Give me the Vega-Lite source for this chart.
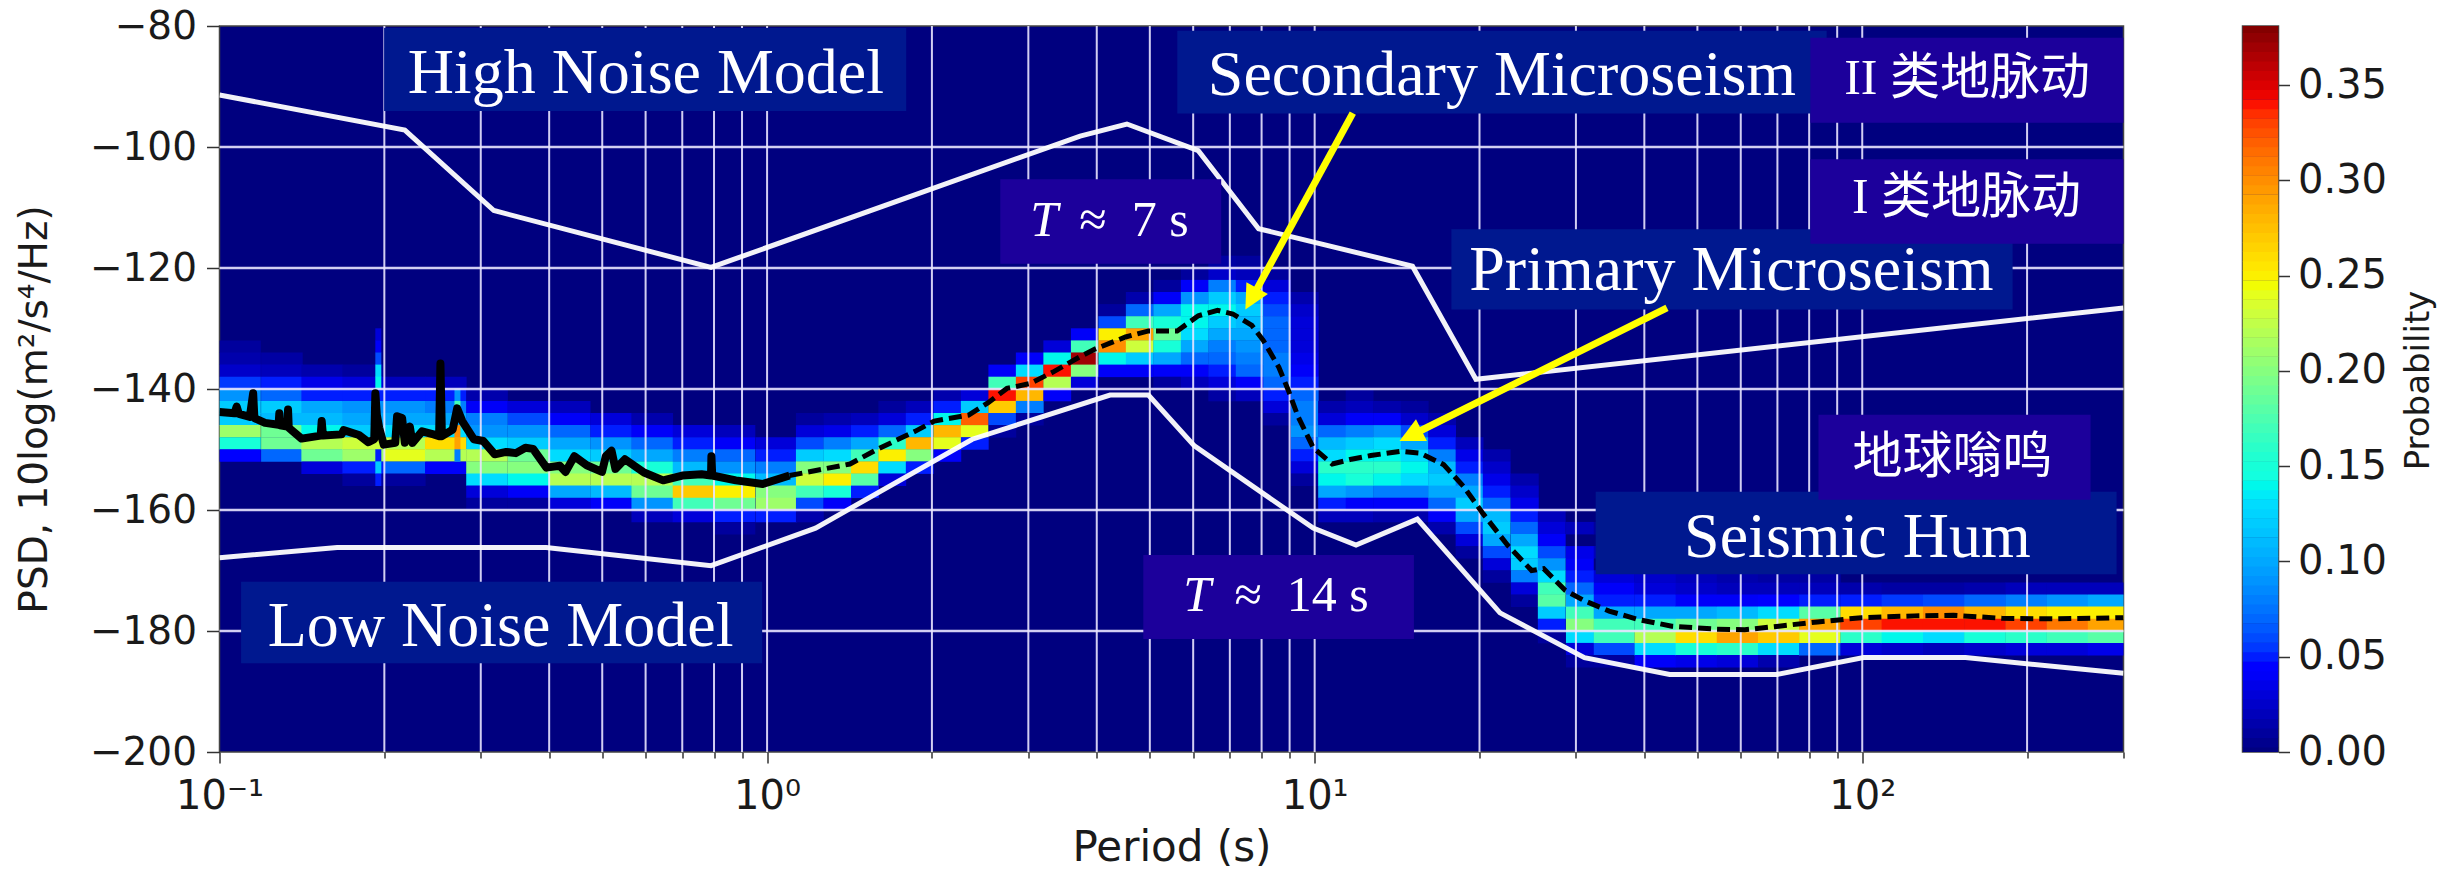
{"$schema":"https://vega.github.io/schema/vega-lite/v6.json","background":"white","padding":{"left":14.5,"top":6,"right":5,"bottom":5},"spacing":107,
"config":{"view":{"fill":"#00007f","stroke":"#444444","strokeWidth":1.5},"axis":{"labelFont":"DejaVu Sans","titleFont":"DejaVu Sans","grid":false,"domain":false,"labelColor":"#1a1a1a","titleColor":"#1a1a1a","tickColor":"#333333","tickWidth":1.5,"titleFontWeight":"normal"}},
"datasets":{
"coarse":[
{"p":0.109,"d":-133,"v":0.01},{"p":0.109,"d":-135,"v":0.015},{"p":0.109,"d":-137,"v":0.025},{"p":0.109,"d":-139,"v":0.055},{"p":0.109,"d":-141,"v":0.09},{"p":0.109,"d":-143,"v":0.12},{"p":0.109,"d":-145,"v":0.12},{"p":0.109,"d":-147,"v":0.21},{"p":0.109,"d":-149,"v":0.15},{"p":0.109,"d":-151,"v":0.045},
{"p":0.13,"d":-135,"v":0.012},{"p":0.13,"d":-137,"v":0.02},{"p":0.13,"d":-139,"v":0.05},{"p":0.13,"d":-141,"v":0.07},{"p":0.13,"d":-143,"v":0.12},{"p":0.13,"d":-145,"v":0.11},{"p":0.13,"d":-147,"v":0.19},{"p":0.13,"d":-149,"v":0.19},{"p":0.13,"d":-151,"v":0.07},
{"p":0.154,"d":-137,"v":0.015},{"p":0.154,"d":-139,"v":0.035},{"p":0.154,"d":-141,"v":0.05},{"p":0.154,"d":-143,"v":0.1},{"p":0.154,"d":-145,"v":0.11},{"p":0.154,"d":-147,"v":0.14},{"p":0.154,"d":-149,"v":0.22},{"p":0.154,"d":-151,"v":0.19},{"p":0.154,"d":-153,"v":0.03},
{"p":0.183,"d":-137,"v":0.01},{"p":0.183,"d":-139,"v":0.03},{"p":0.183,"d":-141,"v":0.05},{"p":0.183,"d":-143,"v":0.09},{"p":0.183,"d":-145,"v":0.1},{"p":0.183,"d":-147,"v":0.12},{"p":0.183,"d":-149,"v":0.23},{"p":0.183,"d":-151,"v":0.21},{"p":0.183,"d":-153,"v":0.05},{"p":0.183,"d":-155,"v":0.01},
{"p":0.218,"d":-139,"v":0.02},{"p":0.218,"d":-141,"v":0.05},{"p":0.218,"d":-143,"v":0.09},{"p":0.218,"d":-145,"v":0.1},{"p":0.218,"d":-147,"v":0.13},{"p":0.218,"d":-149,"v":0.22},{"p":0.218,"d":-151,"v":0.24},{"p":0.218,"d":-153,"v":0.07},{"p":0.218,"d":-155,"v":0.01},
{"p":0.259,"d":-139,"v":0.02},{"p":0.259,"d":-141,"v":0.05},{"p":0.259,"d":-143,"v":0.08},{"p":0.259,"d":-145,"v":0.1},{"p":0.259,"d":-147,"v":0.13},{"p":0.259,"d":-149,"v":0.26},{"p":0.259,"d":-151,"v":0.22},{"p":0.259,"d":-153,"v":0.04},
{"p":0.308,"d":-141,"v":0.015},{"p":0.308,"d":-143,"v":0.04},{"p":0.308,"d":-145,"v":0.08},{"p":0.308,"d":-147,"v":0.09},{"p":0.308,"d":-149,"v":0.13},{"p":0.308,"d":-151,"v":0.22},{"p":0.308,"d":-153,"v":0.2},{"p":0.308,"d":-155,"v":0.13},{"p":0.308,"d":-157,"v":0.03},{"p":0.308,"d":-159,"v":0.01},
{"p":0.367,"d":-143,"v":0.03},{"p":0.367,"d":-145,"v":0.06},{"p":0.367,"d":-147,"v":0.09},{"p":0.367,"d":-149,"v":0.12},{"p":0.367,"d":-151,"v":0.19},{"p":0.367,"d":-153,"v":0.2},{"p":0.367,"d":-155,"v":0.14},{"p":0.367,"d":-157,"v":0.04},{"p":0.367,"d":-159,"v":0.01},
{"p":0.436,"d":-143,"v":0.02},{"p":0.436,"d":-145,"v":0.04},{"p":0.436,"d":-147,"v":0.07},{"p":0.436,"d":-149,"v":0.1},{"p":0.436,"d":-151,"v":0.13},{"p":0.436,"d":-153,"v":0.2},{"p":0.436,"d":-155,"v":0.22},{"p":0.436,"d":-157,"v":0.1},{"p":0.436,"d":-159,"v":0.03},
{"p":0.519,"d":-145,"v":0.03},{"p":0.519,"d":-147,"v":0.05},{"p":0.519,"d":-149,"v":0.09},{"p":0.519,"d":-151,"v":0.12},{"p":0.519,"d":-153,"v":0.19},{"p":0.519,"d":-155,"v":0.22},{"p":0.519,"d":-157,"v":0.11},{"p":0.519,"d":-159,"v":0.04},
{"p":0.617,"d":-145,"v":0.015},{"p":0.617,"d":-147,"v":0.04},{"p":0.617,"d":-149,"v":0.07},{"p":0.617,"d":-151,"v":0.1},{"p":0.617,"d":-153,"v":0.15},{"p":0.617,"d":-155,"v":0.22},{"p":0.617,"d":-157,"v":0.19},{"p":0.617,"d":-159,"v":0.09},{"p":0.617,"d":-161,"v":0.02},
{"p":0.734,"d":-147,"v":0.03},{"p":0.734,"d":-149,"v":0.05},{"p":0.734,"d":-151,"v":0.08},{"p":0.734,"d":-153,"v":0.11},{"p":0.734,"d":-155,"v":0.17},{"p":0.734,"d":-157,"v":0.27},{"p":0.734,"d":-159,"v":0.17},{"p":0.734,"d":-161,"v":0.03},
{"p":0.872,"d":-147,"v":0.02},{"p":0.872,"d":-149,"v":0.04},{"p":0.872,"d":-151,"v":0.07},{"p":0.872,"d":-153,"v":0.09},{"p":0.872,"d":-155,"v":0.14},{"p":0.872,"d":-157,"v":0.25},{"p":0.872,"d":-159,"v":0.19},{"p":0.872,"d":-161,"v":0.05},{"p":0.872,"d":-163,"v":0.01},
{"p":1.04,"d":-149,"v":0.03},{"p":1.04,"d":-151,"v":0.05},{"p":1.04,"d":-153,"v":0.08},{"p":1.04,"d":-155,"v":0.11},{"p":1.04,"d":-157,"v":0.2},{"p":1.04,"d":-159,"v":0.21},{"p":1.04,"d":-161,"v":0.05},
{"p":35.2,"d":-163,"v":0.01},{"p":35.2,"d":-167,"v":0.02},{"p":35.2,"d":-171,"v":0.03},{"p":35.2,"d":-173,"v":0.04},{"p":35.2,"d":-175,"v":0.05},{"p":35.2,"d":-177,"v":0.1},{"p":35.2,"d":-179,"v":0.17},{"p":35.2,"d":-181,"v":0.17},{"p":35.2,"d":-183,"v":0.06},{"p":35.2,"d":-185,"v":0.01},
{"p":41.9,"d":-171,"v":0.025},{"p":41.9,"d":-173,"v":0.03},{"p":41.9,"d":-175,"v":0.05},{"p":41.9,"d":-177,"v":0.1},{"p":41.9,"d":-179,"v":0.17},{"p":41.9,"d":-181,"v":0.22},{"p":41.9,"d":-183,"v":0.13},{"p":41.9,"d":-185,"v":0.04},
{"p":49.8,"d":-171,"v":0.02},{"p":49.8,"d":-173,"v":0.025},{"p":49.8,"d":-175,"v":0.04},{"p":49.8,"d":-177,"v":0.1},{"p":49.8,"d":-179,"v":0.19},{"p":49.8,"d":-181,"v":0.26},{"p":49.8,"d":-183,"v":0.15},{"p":49.8,"d":-185,"v":0.035},
{"p":59.2,"d":-171,"v":0.015},{"p":59.2,"d":-173,"v":0.02},{"p":59.2,"d":-175,"v":0.04},{"p":59.2,"d":-177,"v":0.11},{"p":59.2,"d":-179,"v":0.2},{"p":59.2,"d":-181,"v":0.29},{"p":59.2,"d":-183,"v":0.16},{"p":59.2,"d":-185,"v":0.03},
{"p":70.4,"d":-171,"v":0.012},{"p":70.4,"d":-173,"v":0.02},{"p":70.4,"d":-175,"v":0.045},{"p":70.4,"d":-177,"v":0.13},{"p":70.4,"d":-179,"v":0.23},{"p":70.4,"d":-181,"v":0.27},{"p":70.4,"d":-183,"v":0.13},{"p":70.4,"d":-185,"v":0.015},
{"p":83.7,"d":-171,"v":0.012},{"p":83.7,"d":-173,"v":0.02},{"p":83.7,"d":-175,"v":0.05},{"p":83.7,"d":-177,"v":0.18},{"p":83.7,"d":-179,"v":0.29},{"p":83.7,"d":-181,"v":0.24},{"p":83.7,"d":-183,"v":0.07},
{"p":99.6,"d":-173,"v":0.015},{"p":99.6,"d":-175,"v":0.05},{"p":99.6,"d":-177,"v":0.26},{"p":99.6,"d":-179,"v":0.33},{"p":99.6,"d":-181,"v":0.16},{"p":99.6,"d":-183,"v":0.03},
{"p":118.4,"d":-173,"v":0.012},{"p":118.4,"d":-175,"v":0.055},{"p":118.4,"d":-177,"v":0.28},{"p":118.4,"d":-179,"v":0.34},{"p":118.4,"d":-181,"v":0.14},{"p":118.4,"d":-183,"v":0.025},
{"p":140.9,"d":-173,"v":0.012},{"p":140.9,"d":-175,"v":0.06},{"p":140.9,"d":-177,"v":0.3},{"p":140.9,"d":-179,"v":0.34},{"p":140.9,"d":-181,"v":0.13},{"p":140.9,"d":-183,"v":0.02},
{"p":167.5,"d":-173,"v":0.015},{"p":167.5,"d":-175,"v":0.07},{"p":167.5,"d":-177,"v":0.28},{"p":167.5,"d":-179,"v":0.34},{"p":167.5,"d":-181,"v":0.15},{"p":167.5,"d":-183,"v":0.025},
{"p":199.2,"d":-173,"v":0.02},{"p":199.2,"d":-175,"v":0.08},{"p":199.2,"d":-177,"v":0.26},{"p":199.2,"d":-179,"v":0.33},{"p":199.2,"d":-181,"v":0.16},{"p":199.2,"d":-183,"v":0.03},
{"p":237,"d":-173,"v":0.02},{"p":237,"d":-175,"v":0.09},{"p":237,"d":-177,"v":0.25},{"p":237,"d":-179,"v":0.31},{"p":237,"d":-181,"v":0.17},{"p":237,"d":-183,"v":0.03},
{"p":281.8,"d":-173,"v":0.02},{"p":281.8,"d":-175,"v":0.1},{"p":281.8,"d":-177,"v":0.25},{"p":281.8,"d":-179,"v":0.29},{"p":281.8,"d":-181,"v":0.18},{"p":281.8,"d":-183,"v":0.035}
],
"fine":[
{"p":1.197,"d":-145,"v":0.01},{"p":1.197,"d":-147,"v":0.03},{"p":1.197,"d":-149,"v":0.06},{"p":1.197,"d":-151,"v":0.12},{"p":1.197,"d":-153,"v":0.2},{"p":1.197,"d":-155,"v":0.23},{"p":1.197,"d":-157,"v":0.17},{"p":1.197,"d":-159,"v":0.06},{"p":1.197,"d":-161,"v":0.015},
{"p":1.344,"d":-145,"v":0.015},{"p":1.344,"d":-147,"v":0.035},{"p":1.344,"d":-149,"v":0.08},{"p":1.344,"d":-151,"v":0.13},{"p":1.344,"d":-153,"v":0.2},{"p":1.344,"d":-155,"v":0.25},{"p":1.344,"d":-157,"v":0.15},{"p":1.344,"d":-159,"v":0.04},
{"p":1.509,"d":-145,"v":0.02},{"p":1.509,"d":-147,"v":0.05},{"p":1.509,"d":-149,"v":0.1},{"p":1.509,"d":-151,"v":0.17},{"p":1.509,"d":-153,"v":0.26},{"p":1.509,"d":-155,"v":0.18},{"p":1.509,"d":-157,"v":0.05},
{"p":1.693,"d":-143,"v":0.01},{"p":1.693,"d":-145,"v":0.03},{"p":1.693,"d":-147,"v":0.07},{"p":1.693,"d":-149,"v":0.16},{"p":1.693,"d":-151,"v":0.25},{"p":1.693,"d":-153,"v":0.13},{"p":1.693,"d":-155,"v":0.03},
{"p":1.9,"d":-143,"v":0.02},{"p":1.9,"d":-145,"v":0.05},{"p":1.9,"d":-147,"v":0.12},{"p":1.9,"d":-149,"v":0.28},{"p":1.9,"d":-151,"v":0.2},{"p":1.9,"d":-153,"v":0.05},
{"p":2.134,"d":-141,"v":0.015},{"p":2.134,"d":-143,"v":0.05},{"p":2.134,"d":-145,"v":0.14},{"p":2.134,"d":-147,"v":0.28},{"p":2.134,"d":-149,"v":0.24},{"p":2.134,"d":-151,"v":0.04},
{"p":2.395,"d":-141,"v":0.03},{"p":2.395,"d":-143,"v":0.12},{"p":2.395,"d":-145,"v":0.32},{"p":2.395,"d":-147,"v":0.24},{"p":2.395,"d":-149,"v":0.05},
{"p":2.689,"d":-137,"v":0.04},{"p":2.689,"d":-139,"v":0.17},{"p":2.689,"d":-141,"v":0.34},{"p":2.689,"d":-143,"v":0.27},{"p":2.689,"d":-145,"v":0.06},{"p":2.689,"d":-147,"v":0.01},
{"p":3.018,"d":-135,"v":0.04},{"p":3.018,"d":-137,"v":0.13},{"p":3.018,"d":-139,"v":0.33},{"p":3.018,"d":-141,"v":0.28},{"p":3.018,"d":-143,"v":0.08},{"p":3.018,"d":-145,"v":0.01},
{"p":3.388,"d":-133,"v":0.03},{"p":3.388,"d":-135,"v":0.14},{"p":3.388,"d":-137,"v":0.34},{"p":3.388,"d":-139,"v":0.22},{"p":3.388,"d":-141,"v":0.04},
{"p":3.804,"d":-131,"v":0.04},{"p":3.804,"d":-133,"v":0.17},{"p":3.804,"d":-135,"v":0.37},{"p":3.804,"d":-137,"v":0.2},{"p":3.804,"d":-139,"v":0.03},
{"p":4.27,"d":-127,"v":0.01},{"p":4.27,"d":-129,"v":0.06},{"p":4.27,"d":-131,"v":0.25},{"p":4.27,"d":-133,"v":0.3},{"p":4.27,"d":-135,"v":0.14},{"p":4.27,"d":-137,"v":0.04},
{"p":4.793,"d":-125,"v":0.015},{"p":4.793,"d":-127,"v":0.07},{"p":4.793,"d":-129,"v":0.17},{"p":4.793,"d":-131,"v":0.29},{"p":4.793,"d":-133,"v":0.23},{"p":4.793,"d":-135,"v":0.12},{"p":4.793,"d":-137,"v":0.04},
{"p":5.38,"d":-123,"v":0.01},{"p":5.38,"d":-125,"v":0.04},{"p":5.38,"d":-127,"v":0.1},{"p":5.38,"d":-129,"v":0.15},{"p":5.38,"d":-131,"v":0.19},{"p":5.38,"d":-133,"v":0.15},{"p":5.38,"d":-135,"v":0.1},{"p":5.38,"d":-137,"v":0.04},{"p":5.38,"d":-139,"v":0.01},
{"p":6.04,"d":-121,"v":0.01},{"p":6.04,"d":-123,"v":0.04},{"p":6.04,"d":-125,"v":0.09},{"p":6.04,"d":-127,"v":0.14},{"p":6.04,"d":-129,"v":0.14},{"p":6.04,"d":-131,"v":0.13},{"p":6.04,"d":-133,"v":0.1},{"p":6.04,"d":-135,"v":0.07},{"p":6.04,"d":-137,"v":0.04},{"p":6.04,"d":-139,"v":0.02},
{"p":6.78,"d":-119,"v":0.012},{"p":6.78,"d":-121,"v":0.025},{"p":6.78,"d":-123,"v":0.08},{"p":6.78,"d":-125,"v":0.12},{"p":6.78,"d":-127,"v":0.14},{"p":6.78,"d":-129,"v":0.12},{"p":6.78,"d":-131,"v":0.1},{"p":6.78,"d":-133,"v":0.08},{"p":6.78,"d":-135,"v":0.07},{"p":6.78,"d":-137,"v":0.05},{"p":6.78,"d":-139,"v":0.03},{"p":6.78,"d":-141,"v":0.012},
{"p":7.61,"d":-119,"v":0.01},{"p":7.61,"d":-121,"v":0.02},{"p":7.61,"d":-123,"v":0.05},{"p":7.61,"d":-125,"v":0.1},{"p":7.61,"d":-127,"v":0.12},{"p":7.61,"d":-129,"v":0.11},{"p":7.61,"d":-131,"v":0.1},{"p":7.61,"d":-133,"v":0.09},{"p":7.61,"d":-135,"v":0.08},{"p":7.61,"d":-137,"v":0.07},{"p":7.61,"d":-139,"v":0.04},{"p":7.61,"d":-141,"v":0.02},
{"p":8.54,"d":-121,"v":0.01},{"p":8.54,"d":-123,"v":0.03},{"p":8.54,"d":-125,"v":0.05},{"p":8.54,"d":-127,"v":0.06},{"p":8.54,"d":-129,"v":0.07},{"p":8.54,"d":-131,"v":0.07},{"p":8.54,"d":-133,"v":0.07},{"p":8.54,"d":-135,"v":0.08},{"p":8.54,"d":-137,"v":0.08},{"p":8.54,"d":-139,"v":0.07},{"p":8.54,"d":-141,"v":0.05},{"p":8.54,"d":-143,"v":0.03},{"p":8.54,"d":-145,"v":0.01},
{"p":9.59,"d":-125,"v":0.015},{"p":9.59,"d":-127,"v":0.025},{"p":9.59,"d":-129,"v":0.03},{"p":9.59,"d":-131,"v":0.03},{"p":9.59,"d":-133,"v":0.03},{"p":9.59,"d":-135,"v":0.035},{"p":9.59,"d":-137,"v":0.04},{"p":9.59,"d":-139,"v":0.05},{"p":9.59,"d":-141,"v":0.07},{"p":9.59,"d":-143,"v":0.08},{"p":9.59,"d":-145,"v":0.08},{"p":9.59,"d":-147,"v":0.09},{"p":9.59,"d":-149,"v":0.07},{"p":9.59,"d":-151,"v":0.05},{"p":9.59,"d":-153,"v":0.03},{"p":9.59,"d":-155,"v":0.01},
{"p":10.76,"d":-143,"v":0.015},{"p":10.76,"d":-145,"v":0.03},{"p":10.76,"d":-147,"v":0.07},{"p":10.76,"d":-149,"v":0.11},{"p":10.76,"d":-151,"v":0.13},{"p":10.76,"d":-153,"v":0.16},{"p":10.76,"d":-155,"v":0.14},{"p":10.76,"d":-157,"v":0.1},{"p":10.76,"d":-159,"v":0.05},{"p":10.76,"d":-161,"v":0.02},
{"p":12.08,"d":-141,"v":0.01},{"p":12.08,"d":-143,"v":0.02},{"p":12.08,"d":-145,"v":0.04},{"p":12.08,"d":-147,"v":0.08},{"p":12.08,"d":-149,"v":0.12},{"p":12.08,"d":-151,"v":0.14},{"p":12.08,"d":-153,"v":0.16},{"p":12.08,"d":-155,"v":0.15},{"p":12.08,"d":-157,"v":0.09},{"p":12.08,"d":-159,"v":0.04},{"p":12.08,"d":-161,"v":0.02},
{"p":13.56,"d":-143,"v":0.015},{"p":13.56,"d":-145,"v":0.04},{"p":13.56,"d":-147,"v":0.09},{"p":13.56,"d":-149,"v":0.13},{"p":13.56,"d":-151,"v":0.14},{"p":13.56,"d":-153,"v":0.16},{"p":13.56,"d":-155,"v":0.14},{"p":13.56,"d":-157,"v":0.08},{"p":13.56,"d":-159,"v":0.04},{"p":13.56,"d":-161,"v":0.015},
{"p":15.23,"d":-143,"v":0.01},{"p":15.23,"d":-145,"v":0.025},{"p":15.23,"d":-147,"v":0.06},{"p":15.23,"d":-149,"v":0.1},{"p":15.23,"d":-151,"v":0.13},{"p":15.23,"d":-153,"v":0.14},{"p":15.23,"d":-155,"v":0.13},{"p":15.23,"d":-157,"v":0.08},{"p":15.23,"d":-159,"v":0.04},{"p":15.23,"d":-161,"v":0.015},
{"p":17.09,"d":-145,"v":0.015},{"p":17.09,"d":-147,"v":0.03},{"p":17.09,"d":-149,"v":0.05},{"p":17.09,"d":-151,"v":0.08},{"p":17.09,"d":-153,"v":0.11},{"p":17.09,"d":-155,"v":0.12},{"p":17.09,"d":-157,"v":0.1},{"p":17.09,"d":-159,"v":0.07},{"p":17.09,"d":-161,"v":0.04},{"p":17.09,"d":-163,"v":0.015},
{"p":19.18,"d":-149,"v":0.02},{"p":19.18,"d":-151,"v":0.035},{"p":19.18,"d":-153,"v":0.05},{"p":19.18,"d":-155,"v":0.08},{"p":19.18,"d":-157,"v":0.1},{"p":19.18,"d":-159,"v":0.12},{"p":19.18,"d":-161,"v":0.1},{"p":19.18,"d":-163,"v":0.06},{"p":19.18,"d":-165,"v":0.03},{"p":19.18,"d":-167,"v":0.01},
{"p":21.5,"d":-151,"v":0.015},{"p":21.5,"d":-153,"v":0.025},{"p":21.5,"d":-155,"v":0.035},{"p":21.5,"d":-157,"v":0.05},{"p":21.5,"d":-159,"v":0.07},{"p":21.5,"d":-161,"v":0.11},{"p":21.5,"d":-163,"v":0.12},{"p":21.5,"d":-165,"v":0.1},{"p":21.5,"d":-167,"v":0.06},{"p":21.5,"d":-169,"v":0.03},{"p":21.5,"d":-171,"v":0.01},
{"p":24.2,"d":-155,"v":0.015},{"p":24.2,"d":-157,"v":0.025},{"p":24.2,"d":-159,"v":0.035},{"p":24.2,"d":-161,"v":0.05},{"p":24.2,"d":-163,"v":0.07},{"p":24.2,"d":-165,"v":0.1},{"p":24.2,"d":-167,"v":0.13},{"p":24.2,"d":-169,"v":0.12},{"p":24.2,"d":-171,"v":0.08},{"p":24.2,"d":-173,"v":0.03},{"p":24.2,"d":-175,"v":0.01},
{"p":27.1,"d":-161,"v":0.02},{"p":27.1,"d":-163,"v":0.03},{"p":27.1,"d":-165,"v":0.04},{"p":27.1,"d":-167,"v":0.06},{"p":27.1,"d":-169,"v":0.09},{"p":27.1,"d":-171,"v":0.13},{"p":27.1,"d":-173,"v":0.17},{"p":27.1,"d":-175,"v":0.18},{"p":27.1,"d":-177,"v":0.12},{"p":27.1,"d":-179,"v":0.05},{"p":27.1,"d":-181,"v":0.01},
{"p":30.5,"d":-163,"v":0.02},{"p":30.5,"d":-167,"v":0.035},{"p":30.5,"d":-169,"v":0.04},{"p":30.5,"d":-171,"v":0.05},{"p":30.5,"d":-173,"v":0.07},{"p":30.5,"d":-175,"v":0.1},{"p":30.5,"d":-177,"v":0.17},{"p":30.5,"d":-179,"v":0.2},{"p":30.5,"d":-181,"v":0.13},{"p":30.5,"d":-183,"v":0.03},{"p":30.5,"d":-185,"v":0.01}
],
"spikes":[
{"p":0.195,"d":-131,"v":0.03},{"p":0.195,"d":-133,"v":0.04},{"p":0.195,"d":-135,"v":0.06},{"p":0.195,"d":-137,"v":0.13},{"p":0.195,"d":-139,"v":0.14},{"p":0.195,"d":-151,"v":0.05},{"p":0.195,"d":-153,"v":0.12},{"p":0.195,"d":-155,"v":0.05},
{"p":0.272,"d":-141,"v":0.09},{"p":0.272,"d":-143,"v":0.17},{"p":0.272,"d":-147,"v":0.3},{"p":0.272,"d":-149,"v":0.29},{"p":0.272,"d":-151,"v":0.08}
],
"gridx":[{"p":0.2},{"p":0.3},{"p":0.4},{"p":0.5},{"p":0.6},{"p":0.7},{"p":0.8},{"p":0.9},{"p":1},{"p":2},{"p":3},{"p":4},{"p":5},{"p":6},{"p":7},{"p":8},{"p":9},{"p":10},{"p":20},{"p":30},{"p":40},{"p":50},{"p":60},{"p":70},{"p":80},{"p":90},{"p":100},{"p":200}],
"gridy":[{"d":-100},{"d":-120},{"d":-140},{"d":-160},{"d":-180}],
"models":[
{"m":"high","p":0.1,"d":-91.4},{"m":"high","p":0.218,"d":-97.2},{"m":"high","p":0.317,"d":-110.5},{"m":"high","p":0.79,"d":-119.9},{"m":"high","p":3.73,"d":-98.2},{"m":"high","p":4.54,"d":-96.2},{"m":"high","p":6.13,"d":-100.6},{"m":"high","p":7.9,"d":-113.5},{"m":"high","p":15.09,"d":-119.7},{"m":"high","p":19.7,"d":-138.4},{"m":"high","p":300,"d":-126.6},
{"m":"low","p":0.1,"d":-167.9},{"m":"low","p":0.164,"d":-166.2},{"m":"low","p":0.395,"d":-166.2},{"m":"low","p":0.79,"d":-169.2},{"m":"low","p":1.226,"d":-163},{"m":"low","p":2.37,"d":-148.3},{"m":"low","p":4.23,"d":-141},{"m":"low","p":4.97,"d":-141},{"m":"low","p":6.03,"d":-149.4},{"m":"low","p":9.94,"d":-163},{"m":"low","p":11.9,"d":-165.8},{"m":"low","p":15.4,"d":-161.5},{"m":"low","p":21.8,"d":-177},{"m":"low","p":31.1,"d":-184.4},{"m":"low","p":44.5,"d":-187.2},{"m":"low","p":69.7,"d":-187.2},{"m":"low","p":100.6,"d":-184.4},{"m":"low","p":154.4,"d":-184.4},{"m":"low","p":300,"d":-187}
],
"solid":[
{"p":0.1,"d":-143.8},{"p":0.1065,"d":-144},{"p":0.1075,"d":-142.9},{"p":0.1085,"d":-144.1},{"p":0.1136,"d":-144.6},{"p":0.1152,"d":-140.7},{"p":0.1158,"d":-144.8},{"p":0.1211,"d":-145.6},{"p":0.1282,"d":-145.9},{"p":0.1286,"d":-144},{"p":0.129,"d":-146},{"p":0.133,"d":-146.2},{"p":0.1334,"d":-143.4},{"p":0.1338,"d":-146.4},{"p":0.1412,"d":-148.2},{"p":0.153,"d":-147.7},{"p":0.1537,"d":-145.3},{"p":0.1545,"d":-147.7},{"p":0.1671,"d":-147.5},{"p":0.1685,"d":-146.8},{"p":0.1797,"d":-147.6},{"p":0.187,"d":-148.8},{"p":0.1917,"d":-148.3},{"p":0.1926,"d":-140.7},{"p":0.1938,"d":-144.3},{"p":0.1957,"d":-146.4},{"p":0.1995,"d":-149.2},{"p":0.2094,"d":-148.9},{"p":0.211,"d":-144.5},{"p":0.2155,"d":-144.8},{"p":0.218,"d":-148.9},{"p":0.2226,"d":-146.2},{"p":0.2251,"d":-148.9},{"p":0.2344,"d":-147},{"p":0.246,"d":-147.5},{"p":0.2518,"d":-147.8},{"p":0.2532,"d":-135.8},{"p":0.2548,"d":-147.8},{"p":0.2666,"d":-146.7},{"p":0.2717,"d":-143.2},{"p":0.2775,"d":-145.3},{"p":0.2913,"d":-148.3},{"p":0.3033,"d":-148.6},{"p":0.3182,"d":-150.8},{"p":0.3339,"d":-150.4},{"p":0.3477,"d":-150.6},{"p":0.362,"d":-149.7},{"p":0.3738,"d":-149.9},{"p":0.3954,"d":-153},{"p":0.4183,"d":-152.7},{"p":0.4286,"d":-153.7},{"p":0.4447,"d":-151.1},{"p":0.4684,"d":-152.6},{"p":0.4995,"d":-153.7},{"p":0.5076,"d":-151.1},{"p":0.52,"d":-150.2},{"p":0.5285,"d":-153.2},{"p":0.55,"d":-151.6},{"p":0.596,"d":-153.8},{"p":0.6459,"d":-155.1},{"p":0.7,"d":-154.3},{"p":0.7591,"d":-154.1},{"p":0.79,"d":-154.3},{"p":0.7913,"d":-151.1},{"p":0.794,"d":-154.3},{"p":0.877,"d":-155.1},{"p":0.982,"d":-155.7},{"p":1.099,"d":-154.3}
],
"dashed":[
{"p":1.099,"d":-154.3},{"p":1.417,"d":-152.4},{"p":1.586,"d":-150},{"p":1.863,"d":-147},{"p":2.02,"d":-145.3},{"p":2.334,"d":-144.3},{"p":2.53,"d":-142.3},{"p":2.742,"d":-139.9},{"p":3.02,"d":-139.1},{"p":3.327,"d":-137.2},{"p":3.722,"d":-134.7},{"p":3.97,"d":-133.4},{"p":4.515,"d":-131.4},{"p":4.974,"d":-130.4},{"p":5.61,"d":-130.4},{"p":6.13,"d":-127.9},{"p":6.646,"d":-127},{"p":7.09,"d":-127.6},{"p":7.68,"d":-129.5},{"p":8.06,"d":-132},{"p":8.6,"d":-136.4},{"p":8.95,"d":-140.2},{"p":9.32,"d":-144.5},{"p":9.94,"d":-149.7},{"p":10.77,"d":-152.4},{"p":11.67,"d":-151.6},{"p":12.66,"d":-151},{"p":14.34,"d":-150.3},{"p":15.56,"d":-150.6},{"p":17.2,"d":-152.5},{"p":18.7,"d":-156.1},{"p":20.3,"d":-160.6},{"p":22.5,"d":-165.8},{"p":24.9,"d":-170},{"p":26.2,"d":-169.7},{"p":28.7,"d":-173.3},{"p":31.1,"d":-175},{"p":34.5,"d":-176.7},{"p":39,"d":-178.1},{"p":44.9,"d":-179.2},{"p":54,"d":-179.7},{"p":61,"d":-179.8},{"p":70.4,"d":-179.2},{"p":82.9,"d":-178.5},{"p":99.6,"d":-177.8},{"p":124.6,"d":-177.5},{"p":146.7,"d":-177.4},{"p":180,"d":-177.9},{"p":225,"d":-178},{"p":299.7,"d":-177.8}
],
"blueBoxes":[
{"p":0.1998,"p2":1.795,"d":-80.33,"d2":-94.07},{"p":0.1095,"p2":0.9796,"d":-171.84,"d2":-185.35},{"p":5.613,"p2":86.1,"d":-80.78,"d2":-94.45},{"p":17.77,"p2":188.2,"d":-113.6,"d2":-126.85},{"p":32.6,"p2":291.4,"d":-156.99,"d2":-170.61}
],
"purpleBoxes":[
{"p":80.4,"p2":300,"d":-81.94,"d2":-96},{"p":80.4,"p2":300,"d":-102.02,"d2":-115.98},{"p":83.2,"p2":261.2,"d":-144.24,"d2":-158.31},{"p":2.666,"p2":6.75,"d":-105.33,"d2":-119.29},{"p":4.865,"p2":15.18,"d":-167.42,"d2":-181.32}
],
"labels":[
{"p":0.6006,"d":-91.09,"t":"High Noise Model"},{"p":0.3261,"d":-182.48,"t":"Low Noise Model"},{"p":21.98,"d":-91.42,"t":"Secondary Microseism"},{"p":57.7,"d":-123.7,"t":"Primary Microseism"},{"p":98,"d":-167.7,"t":"Seismic Hum"}
],
"cjk":[
{"p":155.4,"d":-91.26,"t":"II 类地脉动"},{"p":155,"d":-110.96,"t":"I 类地脉动"},{"p":146.2,"d":-153.84,"t":"地球嗡鸣"}
],
"tItalic":[{"p":3.024,"d":-114.77,"t":"T"},{"p":5.757,"d":-176.69,"t":"T"}],
"tRest":[{"p":3.717,"d":-114.77,"t":"≈\u20027 s"},{"p":7.135,"d":-176.69,"t":"≈\u200214 s"}],
"arrows":[
{"a":"secondary","p":11.74,"d":-94.4},{"a":"secondary","p":7.84,"d":-123.5},{"a":"primary","p":44,"d":-126.6},{"a":"primary","p":15.6,"d":-146.9}
],
"head1":[{"p":7.66,"d":-125.1}],"head2":[{"p":14.96,"d":-147.7}],
"bar":[{"v":0},{"v":0.005},{"v":0.01},{"v":0.015},{"v":0.02},{"v":0.025},{"v":0.03},{"v":0.035},{"v":0.04},{"v":0.045},{"v":0.05},{"v":0.055},{"v":0.06},{"v":0.065},{"v":0.07},{"v":0.075},{"v":0.08},{"v":0.085},{"v":0.09},{"v":0.095},{"v":0.1},{"v":0.105},{"v":0.11},{"v":0.115},{"v":0.12},{"v":0.125},{"v":0.13},{"v":0.135},{"v":0.14},{"v":0.145},{"v":0.15},{"v":0.155},{"v":0.16},{"v":0.165},{"v":0.17},{"v":0.175},{"v":0.18},{"v":0.185},{"v":0.19},{"v":0.195},{"v":0.2},{"v":0.205},{"v":0.21},{"v":0.215},{"v":0.22},{"v":0.225},{"v":0.23},{"v":0.235},{"v":0.24},{"v":0.245},{"v":0.25},{"v":0.255},{"v":0.26},{"v":0.265},{"v":0.27},{"v":0.275},{"v":0.28},{"v":0.285},{"v":0.29},{"v":0.295},{"v":0.3},{"v":0.305},{"v":0.31},{"v":0.315},{"v":0.32},{"v":0.325},{"v":0.33},{"v":0.335},{"v":0.34},{"v":0.345},{"v":0.35},{"v":0.355},{"v":0.36},{"v":0.365},{"v":0.37},{"v":0.375},{"v":0.38}]
},
"hconcat":[
{"width":1904,"height":726,
"layer":[
{"data":{"name":"coarse"},"mark":{"type":"rect","width":41.6,"height":12.5,"clip":true,"strokeWidth":0},
"encoding":{
"x":{"field":"p","type":"quantitative","scale":{"type":"log","domain":[0.1,300]},"axis":{"title":"Period (s)","titleFontSize":42,"titlePadding":11,"labelFontSize":40,"labelPadding":13,"tickSize":{"condition":{"test":"datum.value==0.1||datum.value==1||datum.value==10||datum.value==100","value":11},"value":6},"values":[0.1,0.2,0.3,0.4,0.5,0.6,0.7,0.8,0.9,1,2,3,4,5,6,7,8,9,10,20,30,40,50,60,70,80,90,100,200,300],"labelOverlap":false,"labelFlush":false,"labelBound":false,"labelExpr":"datum.value==0.1?'10⁻¹':datum.value==1?'10⁰':datum.value==10?'10¹':datum.value==100?'10²':''"}},
"y":{"field":"d","type":"quantitative","scale":{"domain":[-200,-80]},"axis":{"title":"PSD, 10log(m²/s⁴/Hz)","titleFontSize":39,"titleX":-185,"titleY":383,"titleBaseline":"middle","labelFontSize":39,"labelPadding":10,"tickSize":13,"values":[-80,-100,-120,-140,-160,-180,-200]}},
"color":{"field":"v","type":"quantitative","legend":null,"scale":{"domain":[0,0.0419,0.0476,0.1295,0.1429,0.2438,0.2515,0.3391,0.3467,0.381],"range":["#000080","#0000ff","#0000ff","#00dbff","#14ffe2","#eeff08","#ffec00","#ff1400","#e60000","#800000"]}}}},
{"data":{"name":"fine"},"mark":{"type":"rect","width":27.8,"height":12.5,"clip":true,"strokeWidth":0},
"encoding":{"x":{"field":"p","type":"quantitative","scale":{"type":"log","domain":[0.1,300]}},"y":{"field":"d","type":"quantitative","scale":{"domain":[-200,-80]}},"color":{"field":"v","type":"quantitative"}}},
{"data":{"name":"spikes"},"mark":{"type":"rect","width":6,"height":12.5,"clip":true,"strokeWidth":0},
"encoding":{"x":{"field":"p","type":"quantitative","scale":{"type":"log","domain":[0.1,300]}},"y":{"field":"d","type":"quantitative","scale":{"domain":[-200,-80]}},"color":{"field":"v","type":"quantitative"}}},
{"data":{"name":"gridx"},"mark":{"type":"rule","color":"#e8e4ff","strokeWidth":2,"opacity":0.9},"encoding":{"x":{"field":"p","type":"quantitative","scale":{"type":"log","domain":[0.1,300]}}}},
{"data":{"name":"gridy"},"mark":{"type":"rule","color":"#e8e4ff","strokeWidth":2.5,"opacity":0.9},"encoding":{"y":{"field":"d","type":"quantitative","scale":{"domain":[-200,-80]}}}},
{"data":{"name":"models"},"mark":{"type":"line","color":"#ffffff","strokeWidth":5,"clip":true,"opacity":0.95},"encoding":{"x":{"field":"p","type":"quantitative","scale":{"type":"log","domain":[0.1,300]}},"y":{"field":"d","type":"quantitative","scale":{"domain":[-200,-80]}},"detail":{"field":"m"}}},
{"data":{"name":"solid"},"mark":{"type":"line","color":"#000000","strokeWidth":8,"strokeJoin":"round","clip":true},"encoding":{"x":{"field":"p","type":"quantitative","scale":{"type":"log","domain":[0.1,300]}},"y":{"field":"d","type":"quantitative","scale":{"domain":[-200,-80]}}}},
{"data":{"name":"dashed"},"mark":{"type":"line","color":"#000000","strokeWidth":5,"strokeDash":[13,6]},"encoding":{"x":{"field":"p","type":"quantitative","scale":{"type":"log","domain":[0.1,300]}},"y":{"field":"d","type":"quantitative","scale":{"domain":[-200,-80]}}}},
{"data":{"name":"blueBoxes"},"mark":{"type":"rect","color":"#00188f","strokeWidth":0},"encoding":{"x":{"field":"p","type":"quantitative","scale":{"type":"log","domain":[0.1,300]}},"x2":{"field":"p2"},"y":{"field":"d","type":"quantitative","scale":{"domain":[-200,-80]}},"y2":{"field":"d2"}}},
{"data":{"name":"purpleBoxes"},"mark":{"type":"rect","color":"#1c009b","strokeWidth":0},"encoding":{"x":{"field":"p","type":"quantitative","scale":{"type":"log","domain":[0.1,300]}},"x2":{"field":"p2"},"y":{"field":"d","type":"quantitative","scale":{"domain":[-200,-80]}},"y2":{"field":"d2"}}},
{"data":{"name":"labels"},"mark":{"type":"text","font":"Liberation Serif","fontSize":64,"color":"#ffffff","align":"center","baseline":"alphabetic"},"encoding":{"x":{"field":"p","type":"quantitative","scale":{"type":"log","domain":[0.1,300]}},"y":{"field":"d","type":"quantitative","scale":{"domain":[-200,-80]}},"text":{"field":"t"}}},
{"data":{"name":"cjk"},"mark":{"type":"text","font":"'Liberation Serif','Noto Sans CJK SC'","fontSize":50,"color":"#ffffff","align":"center","baseline":"alphabetic"},"encoding":{"x":{"field":"p","type":"quantitative","scale":{"type":"log","domain":[0.1,300]}},"y":{"field":"d","type":"quantitative","scale":{"domain":[-200,-80]}},"text":{"field":"t"}}},
{"data":{"name":"tItalic"},"mark":{"type":"text","font":"Liberation Serif","fontStyle":"italic","fontSize":50,"color":"#ffffff","align":"left","baseline":"alphabetic"},"encoding":{"x":{"field":"p","type":"quantitative","scale":{"type":"log","domain":[0.1,300]}},"y":{"field":"d","type":"quantitative","scale":{"domain":[-200,-80]}},"text":{"field":"t"}}},
{"data":{"name":"tRest"},"mark":{"type":"text","font":"Liberation Serif","fontSize":50,"color":"#ffffff","align":"left","baseline":"alphabetic"},"encoding":{"x":{"field":"p","type":"quantitative","scale":{"type":"log","domain":[0.1,300]}},"y":{"field":"d","type":"quantitative","scale":{"domain":[-200,-80]}},"text":{"field":"t"}}},
{"data":{"name":"arrows"},"mark":{"type":"line","color":"#ffff00","strokeWidth":7},"encoding":{"x":{"field":"p","type":"quantitative","scale":{"type":"log","domain":[0.1,300]}},"y":{"field":"d","type":"quantitative","scale":{"domain":[-200,-80]}},"detail":{"field":"a"}}},
{"data":{"name":"head1"},"mark":{"type":"point","filled":true,"color":"#ffff00","opacity":1,"shape":"M0,-1L1,1L-1,1Z","size":600,"angle":208.7},"encoding":{"x":{"field":"p","type":"quantitative","scale":{"type":"log","domain":[0.1,300]}},"y":{"field":"d","type":"quantitative","scale":{"domain":[-200,-80]}}}},
{"data":{"name":"head2"},"mark":{"type":"point","filled":true,"color":"#ffff00","opacity":1,"shape":"M0,-1L1,1L-1,1Z","size":600,"angle":243.6},"encoding":{"x":{"field":"p","type":"quantitative","scale":{"type":"log","domain":[0.1,300]}},"y":{"field":"d","type":"quantitative","scale":{"domain":[-200,-80]}}}}
]},
{"width":36,"height":726,"data":{"name":"bar"},"mark":{"type":"rect","height":10,"clip":true,"strokeWidth":0},
"encoding":{"y":{"field":"v","type":"quantitative","scale":{"domain":[0,0.381]},"axis":{"orient":"right","title":"Probability","titleFontSize":34,"titleAngle":270,"titleX":140,"titleY":354,"titleBaseline":"middle","labelFontSize":40,"labelPadding":8,"tickSize":11,"format":".2f","values":[0,0.05,0.1,0.15,0.2,0.25,0.3,0.35]}},
"color":{"field":"v","type":"quantitative","legend":null,"scale":{"domain":[0,0.0419,0.0476,0.1295,0.1429,0.2438,0.2515,0.3391,0.3467,0.381],"range":["#000080","#0000ff","#0000ff","#00dbff","#14ffe2","#eeff08","#ffec00","#ff1400","#e60000","#800000"]}}}}
]}
